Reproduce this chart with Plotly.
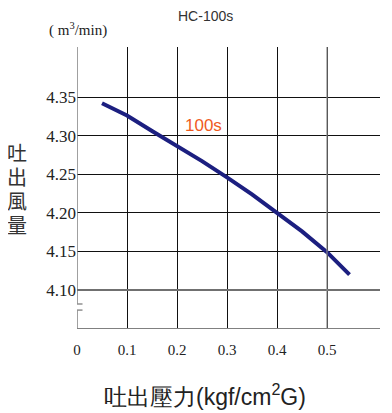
import plotly.graph_objects as go

pressure = [0.05, 0.1, 0.15, 0.2, 0.25, 0.3, 0.35, 0.4, 0.45, 0.5, 0.545]
airflow = [4.342, 4.326, 4.306, 4.287, 4.267, 4.246, 4.224, 4.200, 4.176, 4.149, 4.120]
x_ticks = [0, 0.1, 0.2, 0.3, 0.4, 0.5]
x_labels = ["0", "0.1", "0.2", "0.3", "0.4", "0.5"]
y_ticks = [4.10, 4.15, 4.20, 4.25, 4.30, 4.35]
y_labels = ["4.10", "4.15", "4.20", "4.25", "4.30", "4.35"]
y_title_chars = ["吐", "出", "風", "量"]

serif = "Liberation Serif, Times New Roman, serif"
sans = "Liberation Sans, Arial, sans-serif"

ymin, ymax = 4.0495, 4.4148
shapes = []
shapes.append(dict(type="line", xref="x", yref="y", x0=0, x1=0, y0=ymin, y1=4.074, line=dict(color="#808080", width=1.5)))
shapes.append(dict(type="line", xref="x", yref="y", x0=0, x1=0, y0=4.0819, y1=ymax, line=dict(color="#808080", width=1.5)))
for yb in [4.074, 4.0819]:
    shapes.append(dict(type="line", xref="x", yref="y", x0=-0.008, x1=0.011, y0=yb, y1=yb, line=dict(color="#909090", width=1.5)))
shapes.append(dict(type="line", xref="x domain", yref="y", x0=0, x1=1, y0=4.10, y1=4.10, line=dict(color="#707070", width=2)))
shapes.append(dict(type="line", xref="x", yref="y domain", x0=0.5, x1=0.5, y0=0, y1=1, line=dict(color="#8a8a8a", width=1.2)))
shapes.append(dict(type="line", xref="x domain", yref="y", x0=0, x1=1, y0=ymin, y1=ymin, line=dict(color="#808080", width=2)))

fig = go.Figure()
fig.add_trace(go.Scatter(x=pressure, y=airflow, mode="lines",
                         line=dict(color="#1c1f80", width=4), showlegend=False))

W = 303.0
H = 282.0
def px(xp):
    return (xp - 77) / W
def py(yp):
    return (329 - yp) / H

annotations = [
    dict(text="HC-100s", x=px(205), y=py(16), xref="paper", yref="paper", showarrow=False,
         xanchor="center", yanchor="middle", font=dict(family=sans, size=14, color="#333")),
    dict(text="( m<sup>3</sup>/min)", x=px(78), y=py(30), xref="paper", yref="paper", showarrow=False,
         xanchor="center", yanchor="middle", font=dict(family=serif, size=15, color="#222")),
    dict(text="100s", x=0.252, y=4.313, xref="x", yref="y", showarrow=False,
         xanchor="center", yanchor="middle", font=dict(family=sans, size=17, color="#ef5a1e")),
    dict(text="吐出壓力(kgf/cm<sup>2</sup>G)", x=px(205), y=py(395), xref="paper", yref="paper", showarrow=False,
         xanchor="center", yanchor="middle", font=dict(family=sans, size=23, color="#222")),
]
for i, ch in enumerate(y_title_chars):
    annotations.append(dict(text=ch, x=px(17), y=py(152 + 24 * i), xref="paper", yref="paper",
                            showarrow=False, xanchor="center", yanchor="middle",
                            font=dict(family="Noto Sans CJK TC, sans-serif", size=20, color="#333")))

# page body has an 8px default margin, so the figure is offset by 8px
fig.update_layout(
    width=384, height=405,
    margin=dict(l=69, r=12, t=39, b=84),
    plot_bgcolor="white", paper_bgcolor="white",
    shapes=shapes,
    xaxis=dict(range=[0, 0.606], tickvals=x_ticks, ticktext=x_labels,
               showgrid=True, gridcolor="#111111", gridwidth=1,
               zeroline=False, showline=False, ticks="", automargin=False,
               ticklabelstandoff=10,
               tickfont=dict(family=serif, size=15, color="#222"),
               fixedrange=True),
    yaxis=dict(range=[ymin, ymax], tickvals=y_ticks, ticktext=y_labels,
               showgrid=True, gridcolor="#111111", gridwidth=1,
               zeroline=False, showline=False, ticks="", automargin=False,
               tickfont=dict(family=serif, size=17, color="#222"),
               fixedrange=True),
    annotations=annotations,
)

fig.write_html("out.html")
